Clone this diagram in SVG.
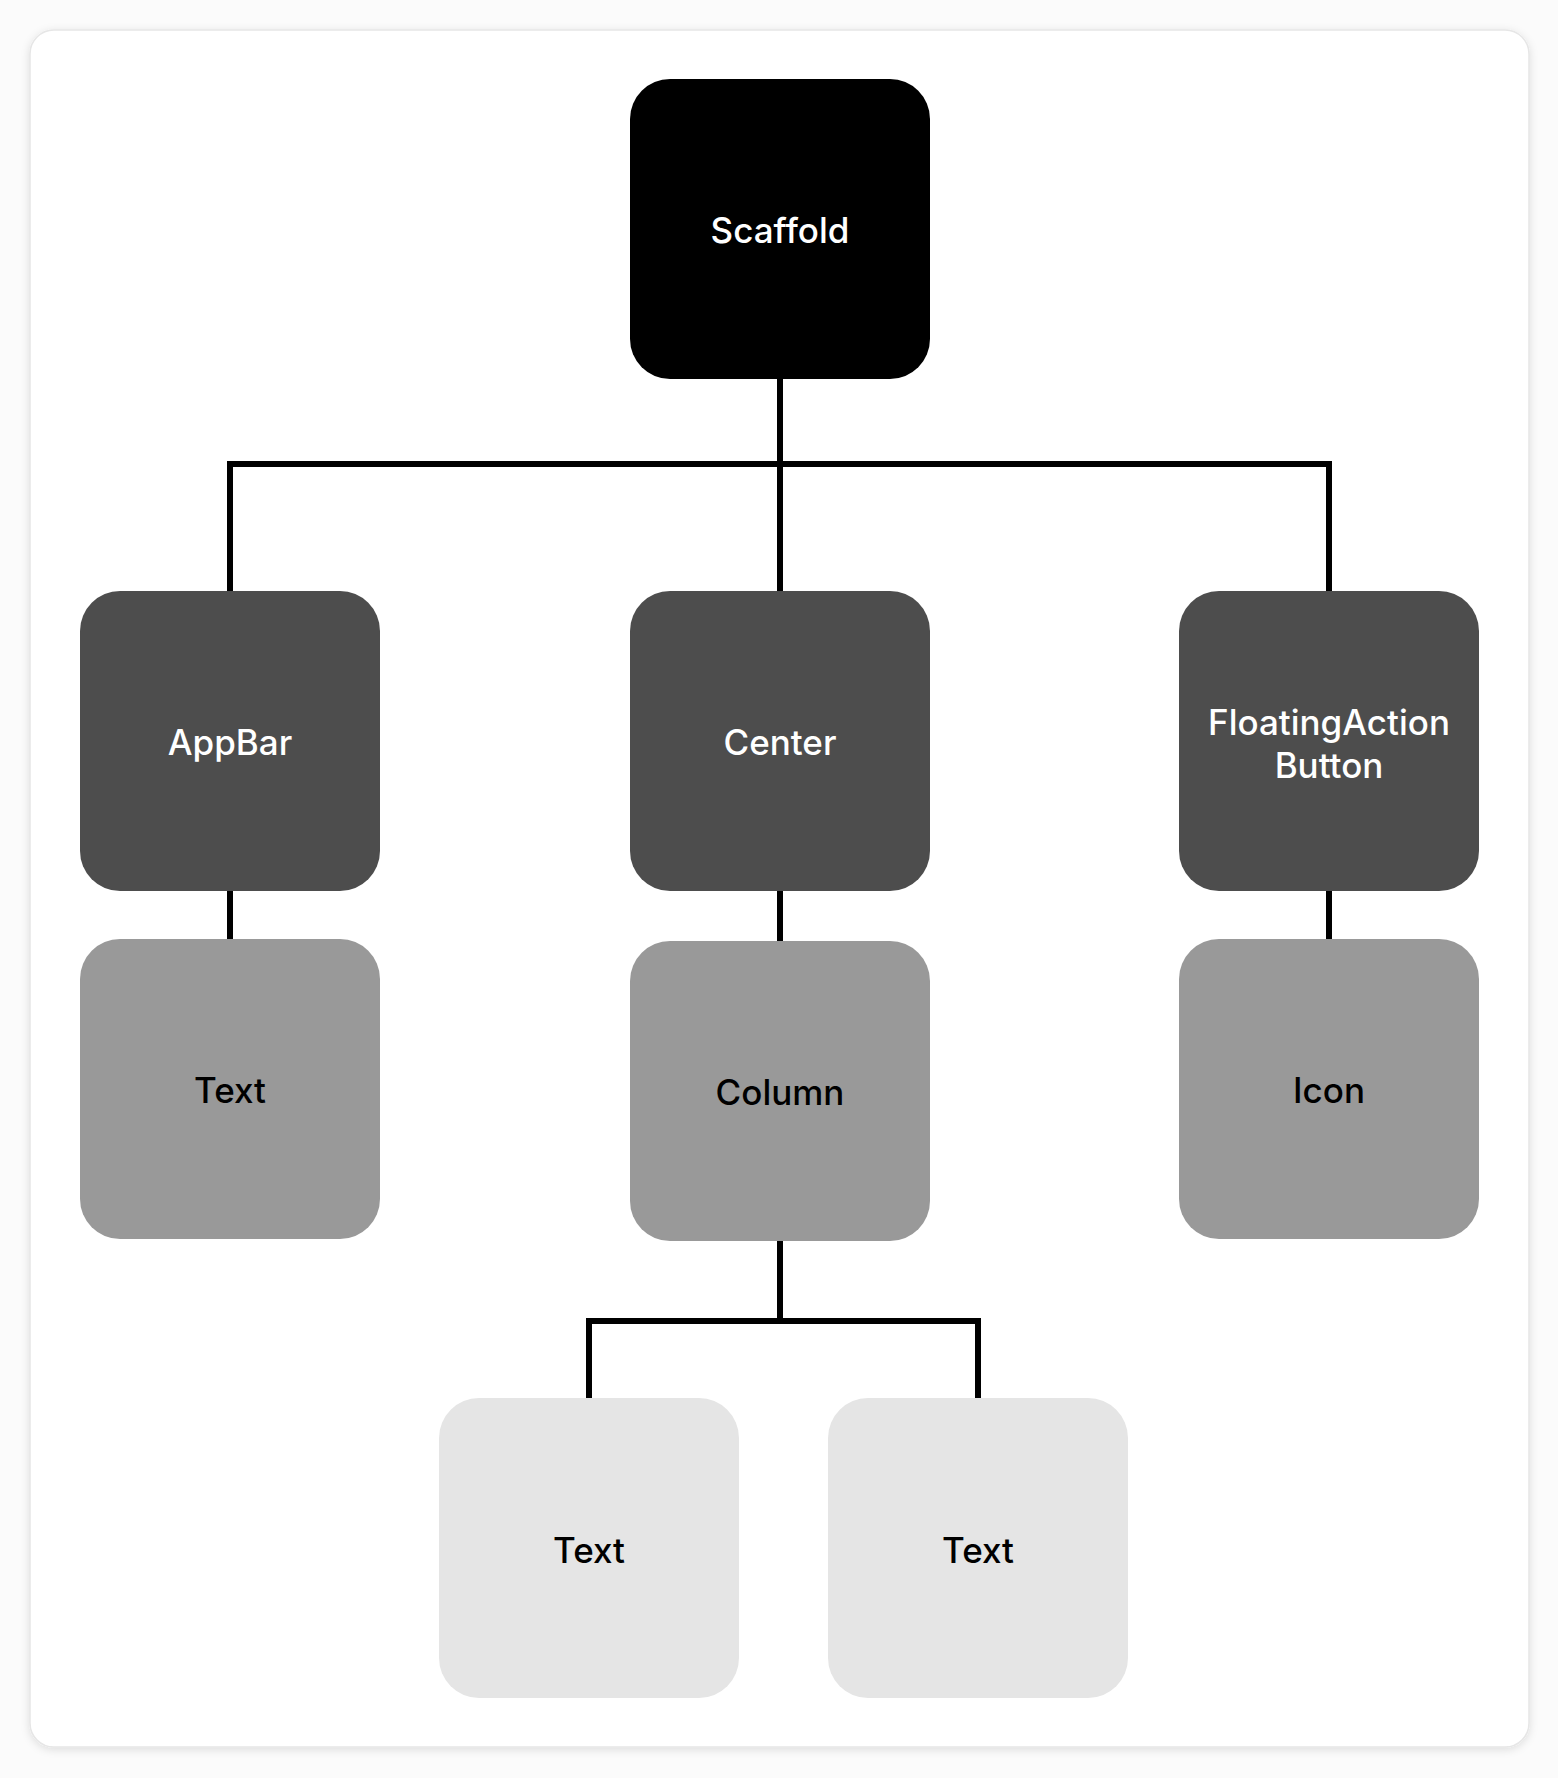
<svg xmlns="http://www.w3.org/2000/svg" width="1558" height="1778" viewBox="0 0 1558 1778">
<defs>
<style>
.lbl{font-family:Inter,"Liberation Sans",sans-serif;font-size:35px;font-weight:500;text-anchor:middle}
.w{fill:#ffffff}
.k{fill:#000000}
.l0{fill:#000000}
.l1{fill:#4d4d4d}
.l2{fill:#999999}
.l3{fill:#e5e5e5}
.conn{fill:none;stroke:#000000;stroke-width:6;stroke-linejoin:miter}
</style>
<filter id="sh" x="-5%" y="-5%" width="110%" height="110%">
<feDropShadow dx="0" dy="2" stdDeviation="4" flood-color="#000000" flood-opacity="0.12"/>
</filter>
</defs>
<rect x="0" y="0" width="1558" height="1778" fill="#fbfbfb"/>
<rect x="30" y="30" width="1499" height="1717" rx="24" fill="#ffffff" stroke="#e6e6e6" stroke-width="1.5" filter="url(#sh)"/>
<g id="connectors">
<path class="conn" d="M780 379 V464 M230 591 V464 H1329 V591 M780 464 V591"/>
<path class="conn" d="M230 891 V939"/>
<path class="conn" d="M780 891 V941"/>
<path class="conn" d="M1329 891 V939"/>
<path class="conn" d="M780 1241 V1321 M589 1398 V1321 H978 V1398"/>
</g>
<g id="scaffold">
<rect class="l0" x="630" y="79" width="300" height="300" rx="40"/>
<text class="lbl w" x="780" y="243">Scaffold</text>
</g>
<g id="appbar">
<rect class="l1" x="80" y="591" width="300" height="300" rx="40"/>
<text class="lbl w" x="230" y="755">AppBar</text>
</g>
<g id="center">
<rect class="l1" x="630" y="591" width="300" height="300" rx="40"/>
<text class="lbl w" x="780" y="755">Center</text>
</g>
<g id="fab">
<rect class="l1" x="1179" y="591" width="300" height="300" rx="40"/>
<text class="lbl w" x="1329" y="735">FloatingAction</text>
<text class="lbl w" x="1329" y="778">Button</text>
</g>
<g id="appbar-text">
<rect class="l2" x="80" y="939" width="300" height="300" rx="40"/>
<text class="lbl k" x="230" y="1103">Text</text>
</g>
<g id="column">
<rect class="l2" x="630" y="941" width="300" height="300" rx="40"/>
<text class="lbl k" x="780" y="1105">Column</text>
</g>
<g id="icon">
<rect class="l2" x="1179" y="939" width="300" height="300" rx="40"/>
<text class="lbl k" x="1329" y="1103">Icon</text>
</g>
<g id="text-left">
<rect class="l3" x="439" y="1398" width="300" height="300" rx="40"/>
<text class="lbl k" x="589" y="1563">Text</text>
</g>
<g id="text-right">
<rect class="l3" x="828" y="1398" width="300" height="300" rx="40"/>
<text class="lbl k" x="978" y="1563">Text</text>
</g>
</svg>
